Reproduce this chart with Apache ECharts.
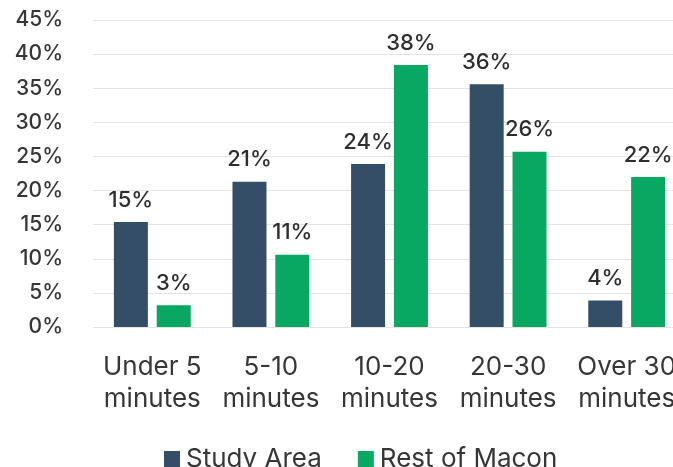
<!DOCTYPE html>
<html>
<head>
<meta charset="utf-8">
<script src="https://cdn.jsdelivr.net/npm/echarts@6/dist/echarts.min.js"></script>
<style>
html,body{margin:0;padding:0;overflow:hidden;background:#fff;width:673px;height:467px;}
#c{width:700px;height:467px;}
</style>
</head>
<body>
<div id="c"></div>
<script>
const categories = ["Under 5\nminutes", "5-10\nminutes", "10-20\nminutes", "20-30\nminutes", "Over 30\nminutes"];
const studyArea = [15.4, 21.3, 23.9, 35.6, 3.9];
const restOfMacon = [3.2, 10.6, 38.4, 25.7, 22.0];
const seriesNames = ["Study Area", "Rest of Macon"];
const yTicks = {min: 0, max: 45, interval: 5};

const FONT = "Inter";
const TXT = "#363636";
const chart = echarts.init(document.getElementById('c'));
const label = {
  show: true, position: 'top', distance: 11,
  fontFamily: FONT, fontSize: 22, fontWeight: 500, color: '#2e2e2e',
  formatter: p => Math.round(p.value) + '%'
};
chart.setOption({
  animation: false,
  textStyle: {fontFamily: FONT},
  grid: {left: 93, right: 14, top: 20, bottom: 140, containLabel: false},
  legend: {
    left: 159, top: 441, itemWidth: 16, itemHeight: 16, itemGap: 36,
    icon: 'rect',
    textStyle: {fontFamily: FONT, fontSize: 26, color: TXT, padding: [0, 0, 0, 1]},
    data: seriesNames
  },
  xAxis: {
    type: 'category', data: categories,
    axisLine: {show: false}, axisTick: {show: false},
    axisLabel: {fontFamily: FONT, fontSize: 26, color: TXT, lineHeight: 32, margin: 24, interval: 0}
  },
  yAxis: {
    type: 'value', min: yTicks.min, max: yTicks.max, interval: yTicks.interval,
    axisLabel: {fontFamily: FONT, fontSize: 21, fontWeight: 500, color: TXT, margin: 30, formatter: v => v + '%'},
    splitLine: {lineStyle: {color: '#e3e3e3', width: 1}},
    axisLine: {show: false}, axisTick: {show: false}
  },
  series: [
    {name: seriesNames[0], type: 'bar', data: studyArea, barWidth: 34, barGap: '26%',
     itemStyle: {color: '#344e68'}, label: label},
    {name: seriesNames[1], type: 'bar', data: restOfMacon, barWidth: 34,
     itemStyle: {color: '#08a862'}, label: label}
  ]
});
</script>
</body>
</html>
